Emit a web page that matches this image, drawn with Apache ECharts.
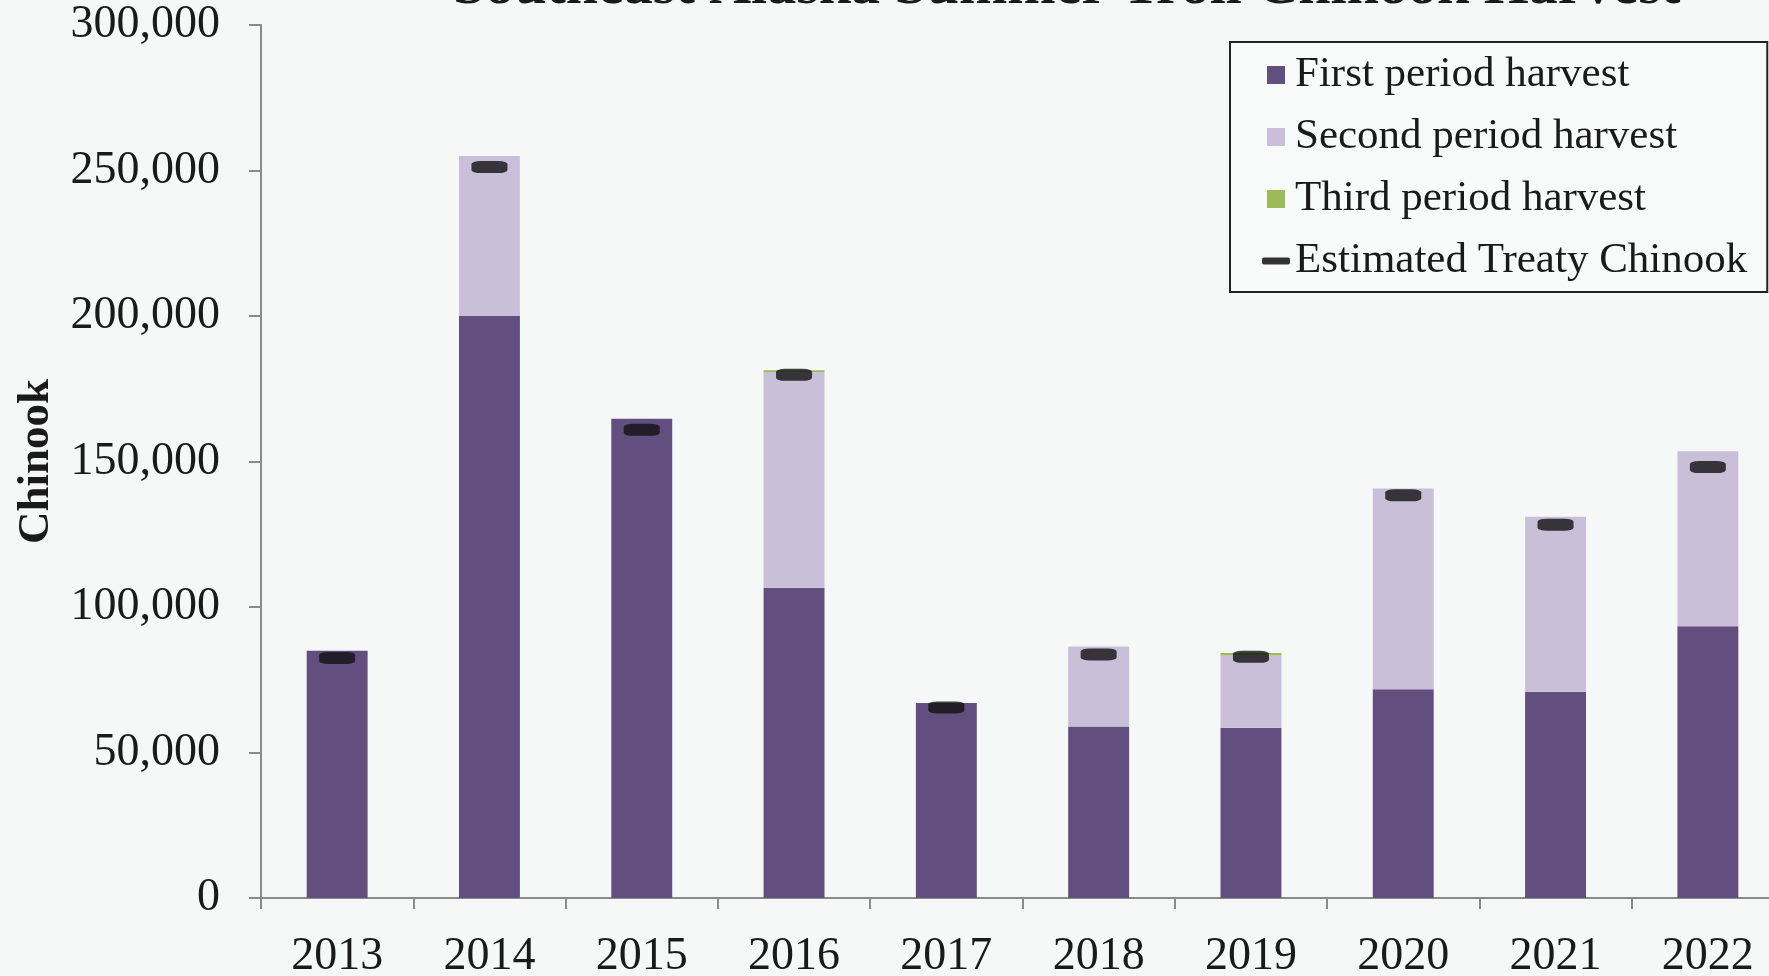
<!DOCTYPE html>
<html>
<head>
<meta charset="utf-8">
<script src="https://cdn.jsdelivr.net/npm/echarts@6/dist/echarts.min.js"></script>
<style>
html,body{margin:0;padding:0;background:#f6f7f7;}
#chart{width:1769px;height:976px;}
</style>
</head>
<body>
<div id="chart"></div>
<script>
var years = ['2013','2014','2015','2016','2017','2018','2019','2020','2021','2022'];
var firstPeriod  = [85000, 200000, 164700, 106600, 67000, 58900, 58500, 71700, 70900, 93400];
var secondPeriod = [0, 55000, 0, 74100, 0, 27500, 24800, 69000, 60100, 60100];
var thirdPeriod  = [0, 0, 0, 700, 0, 0, 900, 0, 0, 0];
var treatyChinook = [82500, 251200, 160900, 179800, 65500, 83700, 82900, 138400, 128300, 148100];
var yTicks = [0, 50000, 100000, 150000, 200000, 250000, 300000];

var serif = '"Liberation Serif", "DejaVu Serif", serif';
var chart = echarts.init(document.getElementById('chart'), null, {renderer: 'canvas'});
var sq = 'path://M0,0 M28,18 M5,0 L23,0 L23,18 L5,18 Z';
var dash = 'path://M0,0 M28,18 M2,5.5 L26,5.5 Q28,5.5 28,7.5 L28,10.5 Q28,12.5 26,12.5 L2,12.5 Q0,12.5 0,10.5 L0,7.5 Q0,5.5 2,5.5 Z';
chart.setOption({
  backgroundColor: '#f6f7f7',
  animation: false,
  title: {
    text: 'Southeast Alaska Summer Troll Chinook Harvest',
    left: 448, top: -46,
    textStyle: {fontFamily: serif, fontWeight: 'bold', fontSize: 58, color: '#1a1a1a'}
  },
  legend: {
    orient: 'vertical',
    left: 1230, top: 42,
    padding: [8, 20, 6, 32],
    itemGap: 12,
    itemWidth: 28, itemHeight: 18,
    borderColor: '#222', borderWidth: 2,
    backgroundColor: 'rgba(250,250,250,0.6)',
    textStyle: {fontFamily: serif, fontSize: 43, color: '#1a1a1a', lineHeight: 50},
    data: [
      {name: 'First period harvest', icon: sq},
      {name: 'Second period harvest', icon: sq},
      {name: 'Third period harvest', icon: sq},
      {name: 'Estimated Treaty Chinook', icon: dash, itemStyle: {color: '#000'}}
    ]
  },
  grid: {left: 261, top: 25, right: -15, bottom: 78, outerBoundsMode: 'none', containLabel: false},
  xAxis: {
    type: 'category',
    data: years,
    boundaryGap: true,
    axisLine: {show: true, lineStyle: {color: '#8a8a8a', width: 2}},
    axisTick: {show: true, interval: 0, length: 11, lineStyle: {color: '#8a8a8a', width: 2}},
    axisLabel: {fontFamily: serif, fontSize: 46, color: '#1a1a1a', margin: 36, interval: 0}
  },
  yAxis: {
    type: 'value',
    min: 0, max: 300000, interval: 50000,
    name: 'Chinook',
    nameLocation: 'middle',
    nameRotate: 90,
    nameGap: 202,
    nameTextStyle: {fontFamily: serif, fontWeight: 'bold', fontSize: 45, color: '#1a1a1a'},
    axisLine: {show: true, lineStyle: {color: '#8a8a8a', width: 2}},
    axisTick: {show: true, length: 12, lineStyle: {color: '#8a8a8a', width: 2}},
    splitLine: {show: false},
    axisLabel: {
      fontFamily: serif, fontSize: 46, color: '#1a1a1a', margin: 41,
      formatter: function (v) { return v.toLocaleString('en-US'); }
    }
  },
  series: [
    {name: 'First period harvest', type: 'bar', stack: 'h', barWidth: '40%', data: firstPeriod,
     itemStyle: {color: '#624f80'}},
    {name: 'Second period harvest', type: 'bar', stack: 'h', data: secondPeriod,
     itemStyle: {color: '#c9bfd9'}},
    {name: 'Third period harvest', type: 'bar', stack: 'h', data: thirdPeriod,
     itemStyle: {color: '#9bbb59'}},
    {name: 'Estimated Treaty Chinook', type: 'scatter', data: treatyChinook,
     symbol: 'roundRect', symbolSize: [36, 12], itemStyle: {color: '#111'}, z: 5}
  ]
});
</script>
</body>
</html>
